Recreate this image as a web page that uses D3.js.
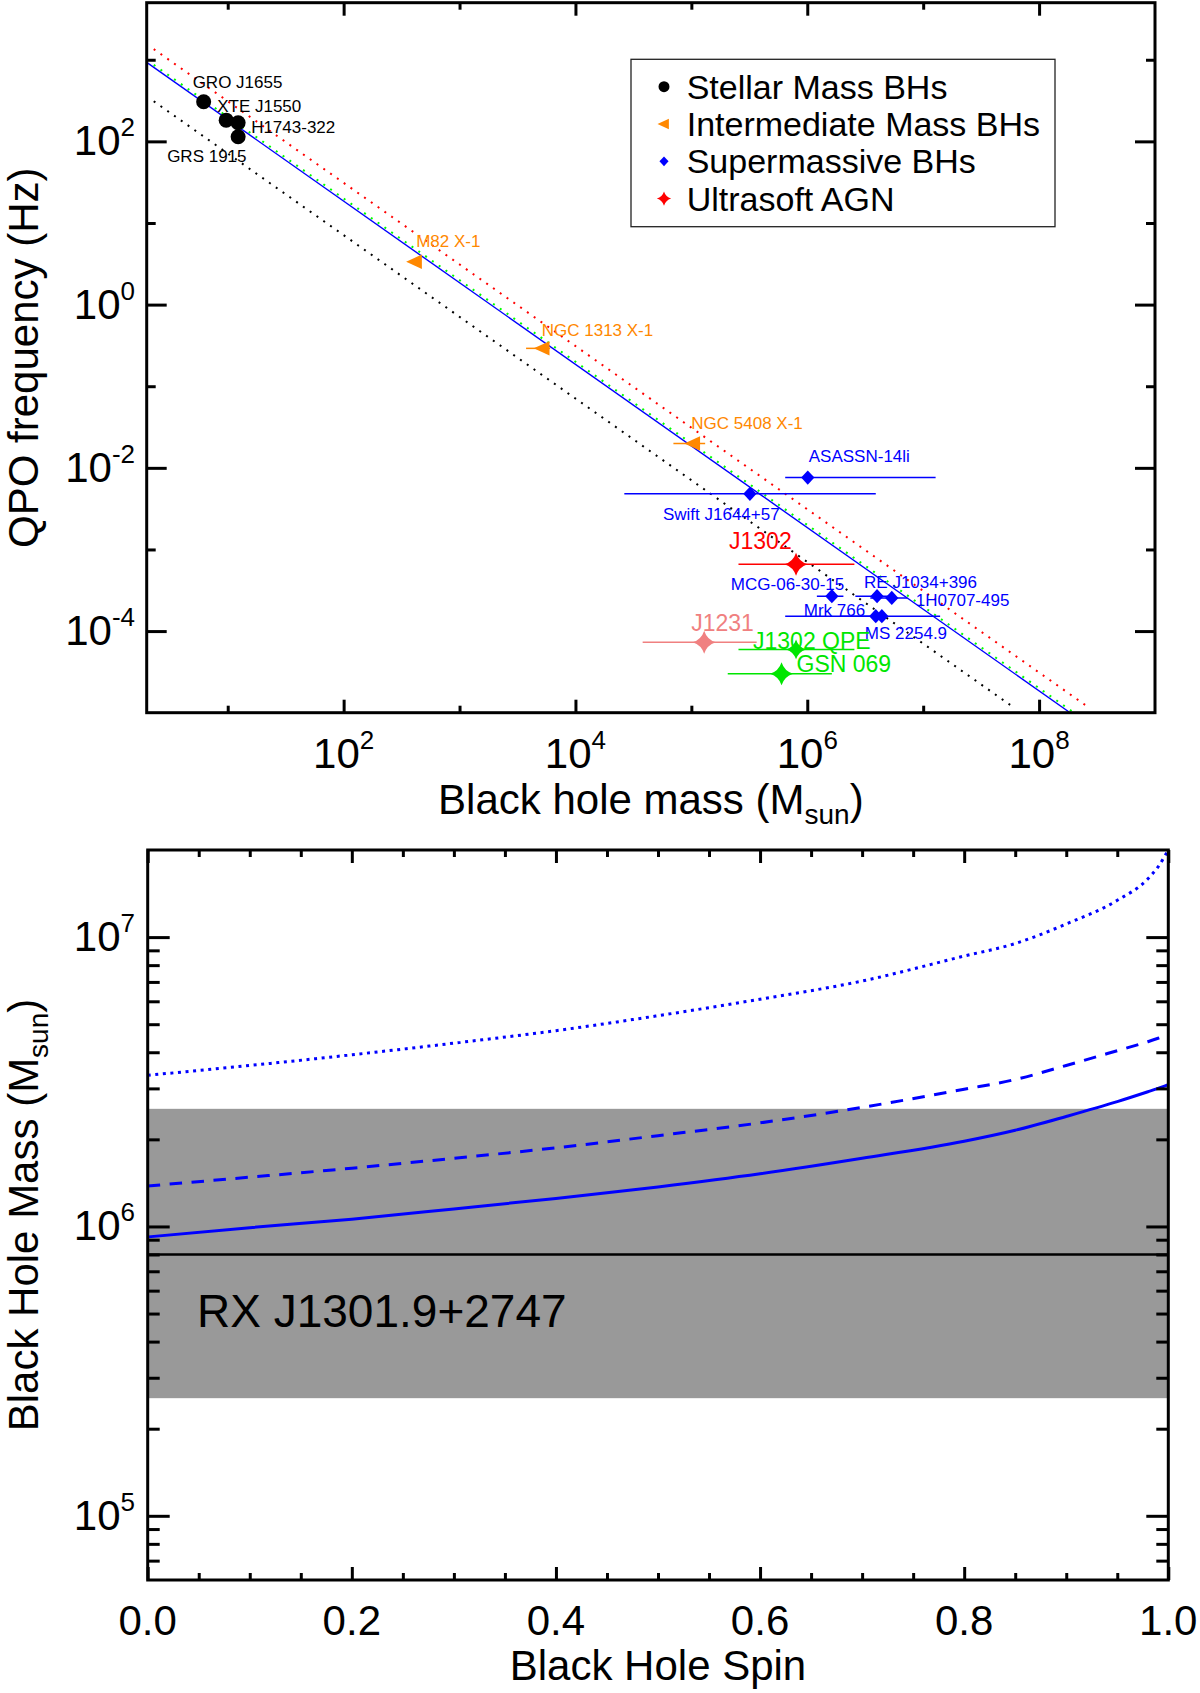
<!DOCTYPE html>
<html lang="en">
<head>
<meta charset="UTF-8">
<title>QPO frequency vs black hole mass</title>
<script src="https://d3js.org/d3.v7.min.js"></script>
<style>
  body { margin: 0; background: #fff; }
  svg { display: block; font-family: "Liberation Sans", Arial, Helvetica, sans-serif; }
</style>
</head>
<body>
<svg id="fig" width="1200" height="1693"></svg>
<script>
// ---- top panel: QPO sources ----
const srcNames = ["GRO J1655", "XTE J1550", "H1743-322", "GRS 1915",
  "M82 X-1", "NGC 1313 X-1", "NGC 5408 X-1",
  "ASASSN-14li", "Swift J1644+57", "MCG-06-30-15", "RE J1034+396", "1H0707-495", "Mrk 766", "MS 2254.9",
  "J1302", "J1231", "J1302 QPE", "GSN 069"];
const srcGroup = ["stellar", "stellar", "stellar", "stellar",
  "imbh", "imbh", "imbh",
  "smbh", "smbh", "smbh", "smbh", "smbh", "smbh", "smbh",
  "j1302", "j1231", "qpe", "qpe"];
const srcMass = [6.2, 9.7, 12.3, 12.3,
  414, 5220, 1.04e5,
  1.01e6, 3.2e5, 1.63e6, 4.0e6, 5.36e6, 3.9e6, 4.4e6,
  8.0e5, 1.29e5, 8.0e5, 6.0e5];
const srcFreq = [306, 182, 169, 114,
  3.35, 0.291, 0.0199,
  7.6e-3, 4.8e-3, 2.68e-4, 2.68e-4, 2.55e-4, 1.52e-4, 1.52e-4,
  6.6e-4, 7.3e-5, 5.96e-5, 3.0e-5];
const srcMassLo = [null, null, null, null,
  null, 3750, 7.0e4,
  6.45e5, 2.64e4, 1.21e6, 2.6e6, 3.5e6, 6.45e5, 1.92e6,
  2.55e5, 3.8e4, 2.55e5, 2.06e5];
const srcMassHi = [null, null, null, null,
  null, 6050, 1.315e5,
  1.28e7, 3.9e6, 2.05e6, 5.5e6, 7.3e6, 4.25e6, 1.4e7,
  2.55e6, 3.66e5, 2.55e6, 1.63e6];

// scaling relations, [mass, frequency] end points
const relBlue  = [[2, 927], [1.853e8, 1e-5]];
const relGreen = [[2.3, 867], [2.0e8, 1e-5]];
const relRed   = [[2.3, 1350], [2.75e8, 1.13e-5]];
const relBlack = [[2.3, 310], [6.2e7, 1.13e-5]];

const legendLabels = ["Stellar Mass BHs", "Intermediate Mass BHs", "Supermassive BHs", "Ultrasoft AGN"];
const legendGroups = ["stellar", "imbh", "smbh", "j1302"];

const xMajorTop = [1e2, 1e4, 1e6, 1e8];
const xMajorTopExp = ["2", "4", "6", "8"];
const xMinorTop = [1e1, 1e3, 1e5, 1e7];
const yMajorTop = [1e-4, 1e-2, 1e0, 1e2];
const yMajorTopExp = ["-4", "-2", "0", "2"];
const yMinorTop = [1e-3, 1e-1, 1e1, 1e3];

// ---- bottom panel: mass vs spin ----
const spin       = [0, 0.1, 0.2, 0.3, 0.4, 0.5, 0.6, 0.7, 0.8, 0.85, 0.9, 0.95, 0.98, 0.99, 1.0];
const massSolid  = [9.2e5, 9.9e5, 1.06e6, 1.15e6, 1.25e6, 1.37e6, 1.52e6, 1.72e6, 1.97e6, 2.15e6, 2.40e6, 2.70e6, 2.92e6, 3.0e6, 3.09e6];
const massDashed = [1.38e6, 1.48e6, 1.59e6, 1.72e6, 1.87e6, 2.06e6, 2.28e6, 2.58e6, 2.98e6, 3.22e6, 3.6e6, 4.05e6, 4.35e6, 4.47e6, 4.6e6];
const massDotted = [3.33e6, 3.6e6, 3.92e6, 4.3e6, 4.75e6, 5.35e6, 6.1e6, 7.05e6, 8.6e6, 9.5e6, 1.11e7, 1.34e7, 1.59e7, 1.75e7, 2.0e7];
const bandMass = [2.55e5, 2.55e6];
const refMass = 8.0e5;
const refName = "RX J1301.9+2747";

const xTicksBot = [0, 0.2, 0.4, 0.6, 0.8, 1.0];
const xMinorBot = d3.range(0, 1.0001, 0.05).filter(v => Math.abs(v * 5 - Math.round(v * 5)) > 1e-6);
const yMajorBot = [1e5, 1e6, 1e7];
const yMajorBotExp = ["5", "6", "7"];
const yMinorBot = [7e4, 8e4, 9e4, 2e5, 3e5, 4e5, 5e5, 6e5, 7e5, 8e5, 9e5, 2e6, 3e6, 4e6, 5e6, 6e6, 7e6, 8e6, 9e6];

// colours / label placement (layout only)
const groupColor = { stellar: "#000", imbh: "#ff8800", smbh: "#0000ff", j1302: "#ff0000", j1231: "#f08080", qpe: "#00e600" };
const labelOffset = {
  "GRO J1655": [-11, -14], "XTE J1550": [-9, -8], "H1743-322": [13, 10], "GRS 1915": [-71, 25],
  "M82 X-1": [1, -15], "NGC 1313 X-1": [-1, -12], "NGC 5408 X-1": [-2, -14],
  "ASASSN-14li": [1, -16], "Swift J1644+57": [-87, 26], "MCG-06-30-15": [-101, -6],
  "RE J1034+396": [-13, -8], "1H0707-495": [24, 8], "Mrk 766": [-72, 0], "MS 2254.9": [-17, 23],
  "J1302": [-67, -15], "J1231": [-13, -11], "J1302 QPE": [-43, 0], "GSN 069": [15, -2]
};
const bigLabels = new Set(["J1302", "J1231", "J1302 QPE", "GSN 069"]);

const svg = d3.select("#fig");

function star4(r) {
  const w = r * 0.24;
  return `M0,${-r}Q${w},${-w} ${r},0Q${w},${w} 0,${r}Q${-w},${w} ${-r},0Q${-w},${-w} 0,${-r}Z`;
}
function marker(g, group, size) {
  const c = groupColor[group];
  if (group === "stellar") g.append("circle").attr("r", size * 0.75).attr("fill", c);
  else if (group === "imbh") g.append("path").attr("d", `M${-size},0L${size * 0.75},${-size * 0.8}L${size * 0.75},${size * 0.8}Z`).attr("fill", c);
  else if (group === "smbh") g.append("path").attr("d", `M0,${-size * 0.75}L${size * 0.7},0L0,${size * 0.75}L${-size * 0.7},0Z`).attr("fill", c);
  else g.append("path").attr("d", star4(size * 1.1)).attr("fill", c);
}
function powText(sel, exp, big, small, rise) {
  sel.append("tspan").attr("font-size", big).text("10");
  sel.append("tspan").attr("font-size", small).attr("dy", -rise).text(exp);
}
function tickSet(g, axisFn, scale, values, len) {
  g.call(axisFn(scale).tickValues(values).tickSize(-len).tickFormat(""));
  g.select(".domain").remove();
  g.selectAll(".tick line").attr("stroke", "#000").attr("stroke-width", 3);
}

// ================= TOP PANEL =================
const x = d3.scaleLog().domain([2, 1e9]).range([146.7, 1155]);
const y = d3.scaleLog().domain([1e-5, 5e3]).range([712.7, 2.7]);
const [tx0, tx1] = x.range(), [ty1, ty0] = y.range();

svg.append("clipPath").attr("id", "clipTop").append("rect")
  .attr("x", tx0).attr("y", ty0).attr("width", tx1 - tx0).attr("height", ty1 - ty0);
const topG = svg.append("g").attr("clip-path", "url(#clipTop)");
const line = d3.line().x(d => x(d[0])).y(d => y(d[1]));

topG.append("path").attr("d", line(relBlack)).attr("fill", "none").attr("stroke", "#000").attr("stroke-width", 2).attr("stroke-dasharray", "2,6.3");
topG.append("path").attr("d", line(relRed)).attr("fill", "none").attr("stroke", "#ff0000").attr("stroke-width", 2).attr("stroke-dasharray", "2,6.3");
topG.append("path").attr("d", line(relGreen)).attr("fill", "none").attr("stroke", "#00ff00").attr("stroke-width", 2).attr("stroke-dasharray", "2,6.3");
topG.append("path").attr("d", line(relBlue)).attr("fill", "none").attr("stroke", "#0000ff").attr("stroke-width", 1.4);

const src = srcNames.map((n, i) => ({ name: n, group: srcGroup[i], m: srcMass[i], f: srcFreq[i], lo: srcMassLo[i], hi: srcMassHi[i] }));

topG.selectAll("line.err").data(src.filter(d => d.lo !== null)).join("line")
  .attr("class", "err")
  .attr("x1", d => x(d.lo)).attr("x2", d => x(d.hi))
  .attr("y1", d => y(d.f)).attr("y2", d => y(d.f))
  .attr("stroke", d => groupColor[d.group]).attr("stroke-width", 1.5);

src.forEach(d => {
  const g = svg.append("g").attr("transform", `translate(${x(d.m)},${y(d.f)})`);
  const size = d.group === "stellar" ? 10 : (d.group === "smbh" ? 9.5 : (d.group === "imbh" ? 9 : (d.name === "J1302 QPE" ? 9 : 10.5)));
  marker(g, d.group, size);
});

src.forEach(d => {
  const off = labelOffset[d.name];
  svg.append("text")
    .attr("x", x(d.m) + off[0]).attr("y", y(d.f) + off[1])
    .attr("font-size", bigLabels.has(d.name) ? 23 : 17)
    .attr("fill", groupColor[d.group])
    .text(d.name);
});

// frame and ticks
svg.append("rect").attr("x", tx0).attr("y", ty0).attr("width", tx1 - tx0).attr("height", ty1 - ty0)
  .attr("fill", "none").attr("stroke", "#000").attr("stroke-width", 3);
tickSet(svg.append("g").attr("transform", `translate(0,${ty1})`), d3.axisBottom, x, xMajorTop, 13);
tickSet(svg.append("g").attr("transform", `translate(0,${ty1})`), d3.axisBottom, x, xMinorTop, 7);
tickSet(svg.append("g").attr("transform", `translate(0,${ty0})`), d3.axisTop, x, xMajorTop, 13);
tickSet(svg.append("g").attr("transform", `translate(0,${ty0})`), d3.axisTop, x, xMinorTop, 7);
tickSet(svg.append("g").attr("transform", `translate(${tx0},0)`), d3.axisLeft, y, yMajorTop, 20);
tickSet(svg.append("g").attr("transform", `translate(${tx0},0)`), d3.axisLeft, y, yMinorTop, 9);
tickSet(svg.append("g").attr("transform", `translate(${tx1},0)`), d3.axisRight, y, yMajorTop, 20);
tickSet(svg.append("g").attr("transform", `translate(${tx1},0)`), d3.axisRight, y, yMinorTop, 9);

xMajorTop.forEach((v, i) => {
  const t = svg.append("text").attr("x", x(v)).attr("y", 768).attr("text-anchor", "middle");
  powText(t, xMajorTopExp[i], 42, 26, 19);
});
yMajorTop.forEach((v, i) => {
  const t = svg.append("text").attr("x", 135).attr("y", y(v) + 14).attr("text-anchor", "end");
  powText(t, yMajorTopExp[i], 42, 26, 19);
});

const xt = svg.append("text").attr("x", (tx0 + tx1) / 2).attr("y", 814).attr("text-anchor", "middle").attr("font-size", 42);
xt.append("tspan").text("Black hole mass (M");
xt.append("tspan").attr("font-size", 28).attr("dy", 10).text("sun");
xt.append("tspan").attr("dy", -10).text(")");

svg.append("text").attr("transform", `translate(38,${(ty0 + ty1) / 2}) rotate(-90)`)
  .attr("text-anchor", "middle").attr("font-size", 42).text("QPO frequency (Hz)");

// legend
const lg = svg.append("g");
lg.append("rect").attr("x", 631).attr("y", 59.3).attr("width", 424).attr("height", 167.4)
  .attr("fill", "#fff").attr("stroke", "#222").attr("stroke-width", 1.3);
legendLabels.forEach((lab, i) => {
  const cy = 86.7 + i * 37.3;
  const g = lg.append("g").attr("transform", `translate(664,${cy})`);
  marker(g, legendGroups[i], legendGroups[i] === "stellar" ? 7.3 : 6.5);
  lg.append("text").attr("x", 686.7).attr("y", cy + 12).attr("font-size", 34).text(lab);
});

// ================= BOTTOM PANEL =================
const x2 = d3.scaleLinear().domain([0, 1]).range([147.7, 1168.3]);
const y2 = d3.scaleLog().domain([6e4, 2e7]).range([1580, 850]);
const [bx0, bx1] = x2.range(), [by1, by0] = y2.range();

svg.append("clipPath").attr("id", "clipBot").append("rect")
  .attr("x", bx0).attr("y", by0).attr("width", bx1 - bx0).attr("height", by1 - by0);
const botG = svg.append("g").attr("clip-path", "url(#clipBot)");

botG.append("rect").attr("x", bx0).attr("width", bx1 - bx0)
  .attr("y", y2(bandMass[1])).attr("height", y2(bandMass[0]) - y2(bandMass[1]))
  .attr("fill", "#999999");
botG.append("line").attr("x1", bx0).attr("x2", bx1).attr("y1", y2(refMass)).attr("y2", y2(refMass))
  .attr("stroke", "#000").attr("stroke-width", 2.5);

const curve = d3.line().x(d => x2(d[0])).y(d => y2(d[1])).curve(d3.curveMonotoneX);
botG.append("path").attr("d", curve(spin.map((s, i) => [s, massSolid[i]])))
  .attr("fill", "none").attr("stroke", "#0000ff").attr("stroke-width", 3);
botG.append("path").attr("d", curve(spin.map((s, i) => [s, massDashed[i]])))
  .attr("fill", "none").attr("stroke", "#0000ff").attr("stroke-width", 3).attr("stroke-dasharray", "12.5,9.5");
botG.append("path").attr("d", curve(spin.map((s, i) => [s, massDotted[i]])))
  .attr("fill", "none").attr("stroke", "#0000ff").attr("stroke-width", 3).attr("stroke-dasharray", "3,4.6");

svg.append("text").attr("x", 197).attr("y", 1326.7).attr("font-size", 46).text(refName);

svg.append("rect").attr("x", bx0).attr("y", by0).attr("width", bx1 - bx0).attr("height", by1 - by0)
  .attr("fill", "none").attr("stroke", "#000").attr("stroke-width", 3);
tickSet(svg.append("g").attr("transform", `translate(0,${by1})`), d3.axisBottom, x2, xTicksBot, 13);
tickSet(svg.append("g").attr("transform", `translate(0,${by1})`), d3.axisBottom, x2, xMinorBot, 7);
tickSet(svg.append("g").attr("transform", `translate(0,${by0})`), d3.axisTop, x2, xTicksBot, 13);
tickSet(svg.append("g").attr("transform", `translate(0,${by0})`), d3.axisTop, x2, xMinorBot, 7);
tickSet(svg.append("g").attr("transform", `translate(${bx0},0)`), d3.axisLeft, y2, yMajorBot, 22);
tickSet(svg.append("g").attr("transform", `translate(${bx0},0)`), d3.axisLeft, y2, yMinorBot, 12);
tickSet(svg.append("g").attr("transform", `translate(${bx1},0)`), d3.axisRight, y2, yMajorBot, 22);
tickSet(svg.append("g").attr("transform", `translate(${bx1},0)`), d3.axisRight, y2, yMinorBot, 12);

xTicksBot.forEach(v => {
  svg.append("text").attr("x", x2(v)).attr("y", 1635).attr("text-anchor", "middle")
    .attr("font-size", 42).text(d3.format(".1f")(v));
});
yMajorBot.forEach((v, i) => {
  const t = svg.append("text").attr("x", 135).attr("y", y2(v) + 14).attr("text-anchor", "end");
  powText(t, yMajorBotExp[i], 42, 26, 19);
});

svg.append("text").attr("x", (bx0 + bx1) / 2).attr("y", 1680).attr("text-anchor", "middle")
  .attr("font-size", 42).text("Black Hole Spin");

const yt = svg.append("text").attr("transform", `translate(38,${(by0 + by1) / 2}) rotate(-90)`)
  .attr("text-anchor", "middle").attr("font-size", 42);
yt.append("tspan").text("Black Hole Mass (M");
yt.append("tspan").attr("font-size", 28).attr("dy", 10).text("sun");
yt.append("tspan").attr("dy", -10).text(")");
</script>
</body>
</html>
